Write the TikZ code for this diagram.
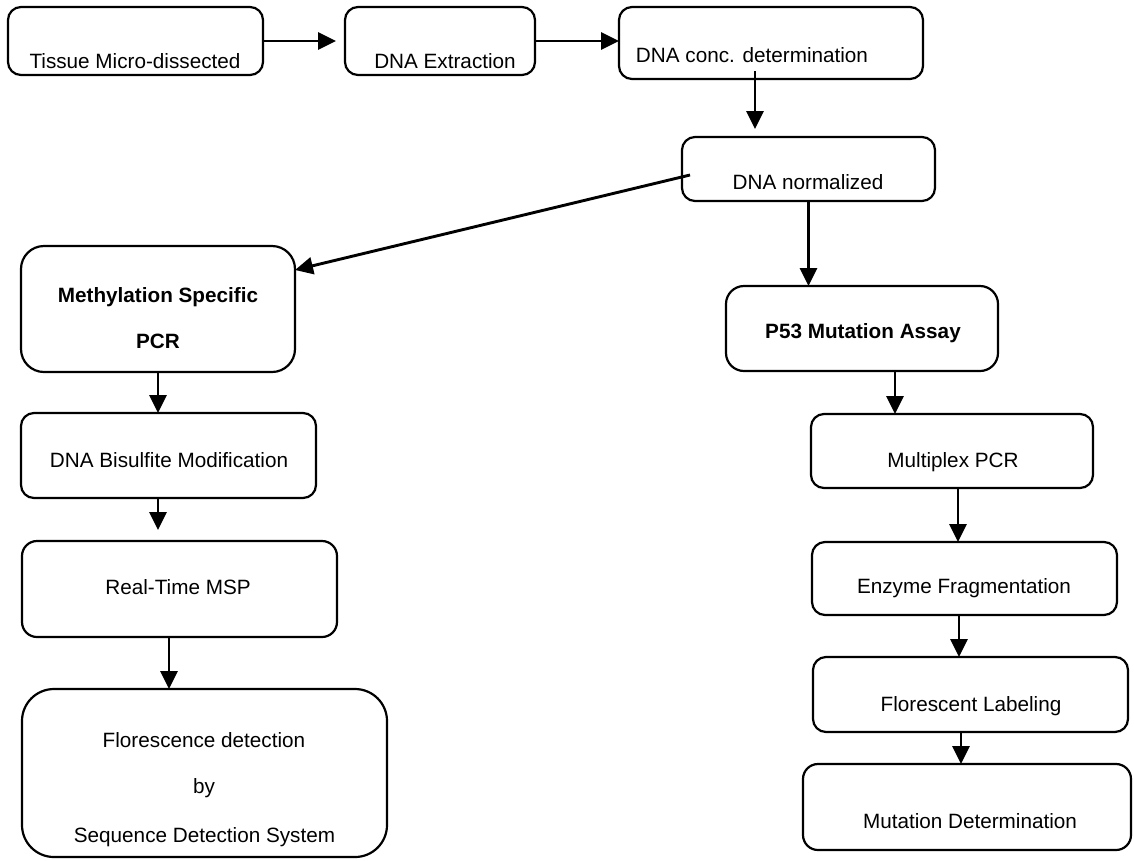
\documentclass[tikz,border=0pt]{standalone}
\usepackage{fontspec}
\setmainfont{Liberation Sans}
\usetikzlibrary{arrows.meta}
\begin{document}
\begin{tikzpicture}[x=1pt,y=-1pt,
  stepbox/.style={draw=black,line width=2.2pt,inner sep=0pt,outer sep=0pt,rounded corners=13pt},
  txt/.style={inner sep=0pt,anchor=base,font=\fontsize{20.7}{24}\selectfont},
  btxt/.style={txt,font=\fontsize{20.7}{24}\selectfont\bfseries},
  flow/.style={line width=2.9pt,-{Triangle[width=17pt,length=18pt]}}]
\useasboundingbox (0,0) rectangle (1134,860);
\fill[white] (0,0) rectangle (1134,860);
% boxes
\node[stepbox,minimum width=255pt,minimum height=68pt] (tissue) at (135.5,41) {};
\node[stepbox,minimum width=190pt,minimum height=68pt] (ext) at (440,41) {};
\node[stepbox,minimum width=304pt,minimum height=72pt] (conc) at (771,43) {};
\node[stepbox,minimum width=253pt,minimum height=64pt] (norm) at (808.5,169) {};
\node[stepbox,minimum width=274pt,minimum height=126pt,rounded corners=23pt] (meth) at (158,309) {};
\node[stepbox,minimum width=272pt,minimum height=85pt,rounded corners=18pt] (p53) at (862,328.5) {};
\node[stepbox,minimum width=295pt,minimum height=85pt] (bis) at (168.5,455.5) {};
\node[stepbox,minimum width=315pt,minimum height=96pt,rounded corners=15pt] (rt) at (179.5,589) {};
\node[stepbox,minimum width=365pt,minimum height=168pt,rounded corners=32pt] (flor) at (204.5,773) {};
\node[stepbox,minimum width=282pt,minimum height=74pt] (mult) at (952,451) {};
\node[stepbox,minimum width=305pt,minimum height=73pt] (enz) at (964.5,578.5) {};
\node[stepbox,minimum width=315pt,minimum height=75pt] (lab) at (970.5,694.5) {};
\node[stepbox,minimum width=328pt,minimum height=86pt,rounded corners=15pt] (mut) at (967,807) {};
% texts
\node[txt] (ttissue) at (135,68) {Tissue Micro-dissected};
\node[txt] (text) at (445,68) {DNA Extraction};
\node[txt] (tconc) at (752,62) {DNA conc. determination};
\node[txt] (tnorm) at (808,189) {DNA normalized};
\node[btxt] (tmeth1) at (158,302) {Methylation Specific};
\node[btxt] (tmeth2) at (158,348) {PCR};
\node[btxt] (tp53) at (863,338) {P53 Mutation Assay};
\node[txt] (tbis) at (169,467) {DNA Bisulfite Modification};
\node[txt] (trt) at (178,594) {Real-Time MSP};
\node[txt] (tflor1) at (204,747) {Florescence detection};
\node[txt] (tflor2) at (204,793) {by};
\node[txt] (tflor3) at (204.5,842) {Sequence Detection System};
\node[txt] (tmult) at (953,467) {Multiplex PCR};
\node[txt] (tenz) at (964,593) {Enzyme Fragmentation};
\node[txt] (tlab) at (971,711) {Florescent Labeling};
\node[txt] (tmut) at (970,828) {Mutation Determination};
% connectors
\draw[flow,shorten >=9pt] (tissue.east) -- (ext.west);
\draw[flow] (ext.east) -- (ext.east -| conc.west);
\draw[flow] ([xshift=-16pt,yshift=8pt]conc.south) -- ([xshift=-16pt,yshift=8pt]conc.south |- norm.north);
\draw[flow] ([xshift=8pt,yshift=-6pt]norm.west) -- ([yshift=-24pt]meth.north east);
\draw[flow] (norm.south) -- (norm.south |- p53.north);
\draw[flow] (meth.south) -- (meth.south |- bis.north);
\draw[flow,shorten >=11pt] (meth.south |- bis.south) -- (meth.south |- rt.north);
\draw[flow] ([xshift=-10.5pt]rt.south) -- ([xshift=-10.5pt]rt.south |- flor.north);
\draw[flow] ([xshift=33pt]p53.south) -- ([xshift=33pt]p53.south |- mult.north);
\draw[flow] ([xshift=6pt]mult.south) -- ([xshift=6pt]mult.south |- enz.north);
\draw[flow] ([xshift=-5.5pt]enz.south) -- ([xshift=-5.5pt]enz.south |- lab.north);
\draw[flow] ([xshift=-9.5pt]lab.south) -- ([xshift=-9.5pt]lab.south |- mut.north);
\end{tikzpicture}
\end{document}
